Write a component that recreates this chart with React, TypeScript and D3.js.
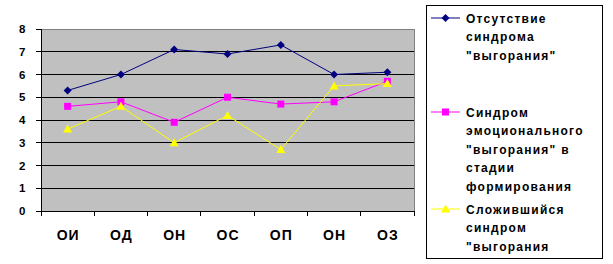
import React from "react";
import * as d3 from "d3";

const categories = ["ОИ", "ОД", "ОН", "ОС", "ОП", "ОН ", "ОЗ"];
const catLabels = ["ОИ", "ОД", "ОН", "ОС", "ОП", "ОН", "ОЗ"];
const seriesNoBurnout = [5.3, 6.0, 7.1, 6.9, 7.3, 6.0, 6.1];
const seriesForming = [4.6, 4.8, 3.9, 5.0, 4.7, 4.8, 5.7];
const seriesFormed = [3.6, 4.6, 3.0, 4.2, 2.7, 5.5, 5.6];
const yTicks = [0, 1, 2, 3, 4, 5, 6, 7, 8];
const legendNoBurnout = ["Отсутствие", "синдрома", "\"выгорания\""];
const legendForming = ["Синдром", "эмоционального", "\"выгорания\" в", "стадии", "формирования"];
const legendFormed = ["Сложившийся", "синдром", "\"выгорания"];

const W = 613, H = 264;
const plot = { left: 41, right: 414, top: 29, bottom: 211 };
const font = "'Liberation Sans', Arial, sans-serif";

export default function App() {
  const x = d3.scaleBand<string>().domain(categories).range([plot.left, plot.right]);
  const y = d3.scaleLinear().domain([0, 8]).range([plot.bottom, plot.top]);
  const cx = (c: string) => (x(c) as number) + x.bandwidth() / 2;
  const line = (vals: number[]) =>
    d3.line<number>().x((_, i) => cx(categories[i])).y((v) => y(v))(vals) as string;

  const diamond = (px: number, py: number, key: string, color: string) => (
    <path key={key} d={`M${px},${py - 4}L${px + 4},${py}L${px},${py + 4}L${px - 4},${py}Z`} fill={color} />
  );
  const square = (px: number, py: number, key: string, color: string) => (
    <rect key={key} x={px - 3.5} y={py - 3.5} width={7} height={7} fill={color} />
  );
  const triangle = (px: number, py: number, key: string, color: string) => (
    <path key={key} d={`M${px},${py - 4.5}L${px + 4.5},${py + 3.5}L${px - 4.5},${py + 3.5}Z`} fill={color} />
  );

  const series = [
    { vals: seriesNoBurnout, color: "#000080", marker: diamond },
    { vals: seriesForming, color: "#FF00FF", marker: square },
    { vals: seriesFormed, color: "#FFFF00", marker: triangle },
  ];

  const legend = [
    { lines: legendNoBurnout, y0: 18, color: "#000080", marker: diamond },
    { lines: legendForming, y0: 112, color: "#FF00FF", marker: square },
    { lines: legendFormed, y0: 209, color: "#FFFF00", marker: triangle },
  ];

  return (
    <svg width={W} height={H} style={{ position: "absolute", left: 0, top: 0, background: "#fff" }}>
      <rect x={plot.left} y={plot.top} width={plot.right - plot.left} height={plot.bottom - plot.top} fill="#C0C0C0" />
      {yTicks.slice(1).map((t) => (
        <line key={t} x1={plot.left} x2={plot.right} y1={y(t)} y2={y(t)} stroke={t === 8 ? "#808080" : "#000"} strokeWidth={1} shapeRendering="crispEdges" />
      ))}
      <line x1={plot.right} x2={plot.right} y1={plot.top} y2={plot.bottom} stroke="#808080" shapeRendering="crispEdges" />
      <line x1={plot.left} x2={plot.left} y1={plot.top} y2={plot.bottom} stroke="#000" shapeRendering="crispEdges" />
      <line x1={plot.left} x2={plot.right} y1={plot.bottom} y2={plot.bottom} stroke="#000" shapeRendering="crispEdges" />
      {yTicks.map((t) => (
        <g key={t}>
          <line x1={plot.left - 5} x2={plot.left} y1={y(t)} y2={y(t)} stroke="#000" shapeRendering="crispEdges" />
          <text x={25.5} y={y(t) + 4} textAnchor="end" fontFamily={font} fontWeight="bold" fontSize={11.5}>{t}</text>
        </g>
      ))}
      {categories.map((c, i) => (
        <g key={c}>
          <line x1={x(c) as number} x2={x(c) as number} y1={plot.bottom} y2={plot.bottom + 5} stroke="#000" shapeRendering="crispEdges" />
          <text x={cx(c) + 0.5} y={240} textAnchor="middle" fontFamily={font} fontWeight="bold" fontSize={14} letterSpacing={1}>{catLabels[i]}</text>
        </g>
      ))}
      <line x1={plot.right} x2={plot.right} y1={plot.bottom} y2={plot.bottom + 5} stroke="#000" shapeRendering="crispEdges" />
      {series.map((s, si) => (
        <g key={si}>
          <path d={line(s.vals)} fill="none" stroke={s.color} strokeWidth={1} />
          {s.vals.map((v, i) => s.marker(cx(categories[i]), y(v), `m${si}-${i}`, s.color))}
        </g>
      ))}
      <rect x={426.5} y={5.5} width={176} height={253} fill="#fff" stroke="#000" strokeWidth={1} />
      {legend.map((l, li) => (
        <g key={li}>
          <line x1={431} x2={460} y1={l.y0} y2={l.y0} stroke={l.color} />
          {l.marker(445.5, l.y0, `lg${li}`, l.color)}
          {l.lines.map((t, k) => (
            <text key={k} x={466} y={l.y0 + 4.5 + k * 18.5} fontFamily={font} fontWeight="bold" fontSize={12} letterSpacing={1.25}>{t}</text>
          ))}
        </g>
      ))}
    </svg>
  );
}
